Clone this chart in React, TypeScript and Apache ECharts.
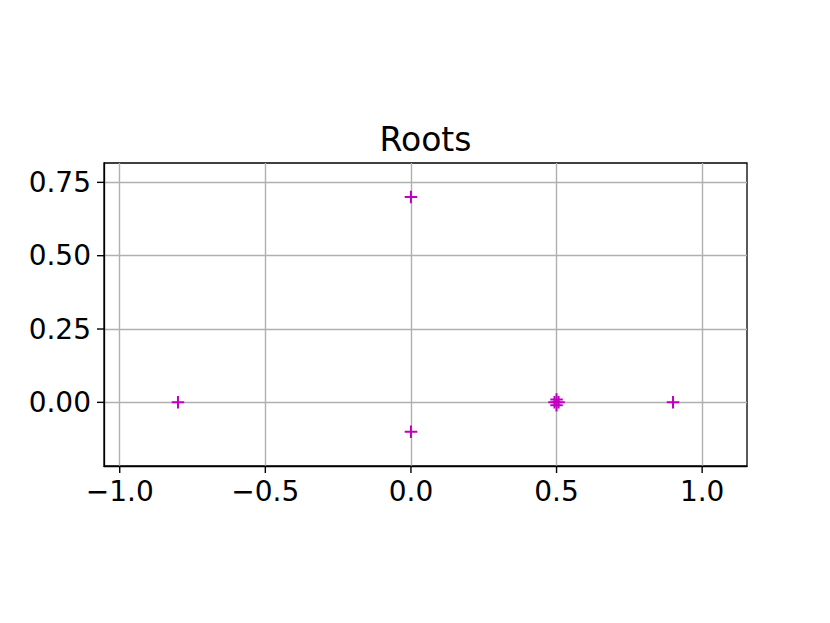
import React, { useEffect, useRef } from "react";
import * as echarts from "echarts";

const titleText = "Roots";
const xTicks = [-1, -0.5, 0, 0.5, 1];
const yTicks = [0, 0.25, 0.5, 0.75];
const xRange = [-1.054, 1.154];
const yRange = [-0.217, 0.816];
const rootsRe = [-0.8, 0, 0, 0.9, 0.493, 0.507, 0.5, 0.5];
const rootsIm = [0, 0.7, -0.1, 0, 0, 0, 0.01, -0.01];

const FONT = "DejaVu Sans";
const TICK_LEN = 7;
const plusPath =
  "path://M-0.8,-5 H0.8 V-0.8 H5 V0.8 H0.8 V5 H-0.8 V0.8 H-5 V-0.8 H-0.8 Z";

const fmt = (v: number, d: number) => v.toFixed(d).replace("-", "\u2212");

export default function App() {
  const ref = useRef<HTMLDivElement>(null);
  useEffect(() => {
    if (!ref.current) return;
    const chart = echarts.init(ref.current, undefined, { renderer: "svg" });
    const data = rootsRe.map((x, i) => [x, rootsIm[i]]);
    const axisLine = { show: true, onZero: false, lineStyle: { color: "#000", width: 1.3 } };
    chart.setOption({
      animation: false,
      backgroundColor: "#ffffff",
      grid: {
        left: 104,
        top: 163,
        right: 83,
        bottom: 157,
        show: true,
        backgroundColor: "transparent",
        borderColor: "#000000",
        borderWidth: 1.3,
      },
      xAxis: {
        type: "value",
        position: "bottom",
        min: xRange[0],
        max: xRange[1],
        axisLine,
        axisTick: { show: false, customValues: xTicks },
        axisLabel: {
          customValues: xTicks,
          margin: 11,
          fontFamily: FONT,
          fontSize: 28,
          color: "#000",
          formatter: (v: number) => fmt(v, 1),
        },
        splitLine: { show: true, lineStyle: { color: "#b0b0b0", width: 1.4 } },
      },
      yAxis: {
        type: "value",
        position: "left",
        min: yRange[0],
        max: yRange[1],
        axisLine,
        axisTick: { show: false, customValues: yTicks },
        axisLabel: {
          customValues: yTicks,
          margin: 13,
          fontFamily: FONT,
          fontSize: 28,
          color: "#000",
          formatter: (v: number) => fmt(v, 2),
        },
        splitLine: { show: true, lineStyle: { color: "#b0b0b0", width: 1.4 } },
      },
      series: [
        {
          type: "scatter",
          data,
          symbol: plusPath,
          symbolSize: 12.5,
          itemStyle: { color: "#bf00bf", opacity: 1 },
          z: 5,
        },
      ],
    });
    const tickStyle = { stroke: "#000000", lineWidth: 1.4 };
    const tickEls: any[] = [];
    xTicks.forEach((v) => {
      const p = chart.convertToPixel({ gridIndex: 0 }, [v, yRange[0]]) as number[];
      tickEls.push({
        type: "line",
        z: 50,
        shape: { x1: p[0], y1: p[1], x2: p[0], y2: p[1] + TICK_LEN },
        style: tickStyle,
      });
    });
    yTicks.forEach((v) => {
      const p = chart.convertToPixel({ gridIndex: 0 }, [xRange[0], v]) as number[];
      tickEls.push({
        type: "line",
        z: 50,
        shape: { x1: p[0], y1: p[1], x2: p[0] - TICK_LEN, y2: p[1] },
        style: tickStyle,
      });
    });
    chart.setOption({
      graphic: [
        {
          type: "text",
          x: 425.5,
          y: 139,
          z: 20,
          style: {
            text: titleText,
            font: `33px "${FONT}"`,
            fill: "#000",
            textAlign: "center",
            textVerticalAlign: "middle",
          },
        },
        ...tickEls,
      ],
    });
    return () => chart.dispose();
  }, []);
  return <div ref={ref} style={{ width: 830, height: 623, position: "absolute", left: 0, top: 0 }} />;
}
